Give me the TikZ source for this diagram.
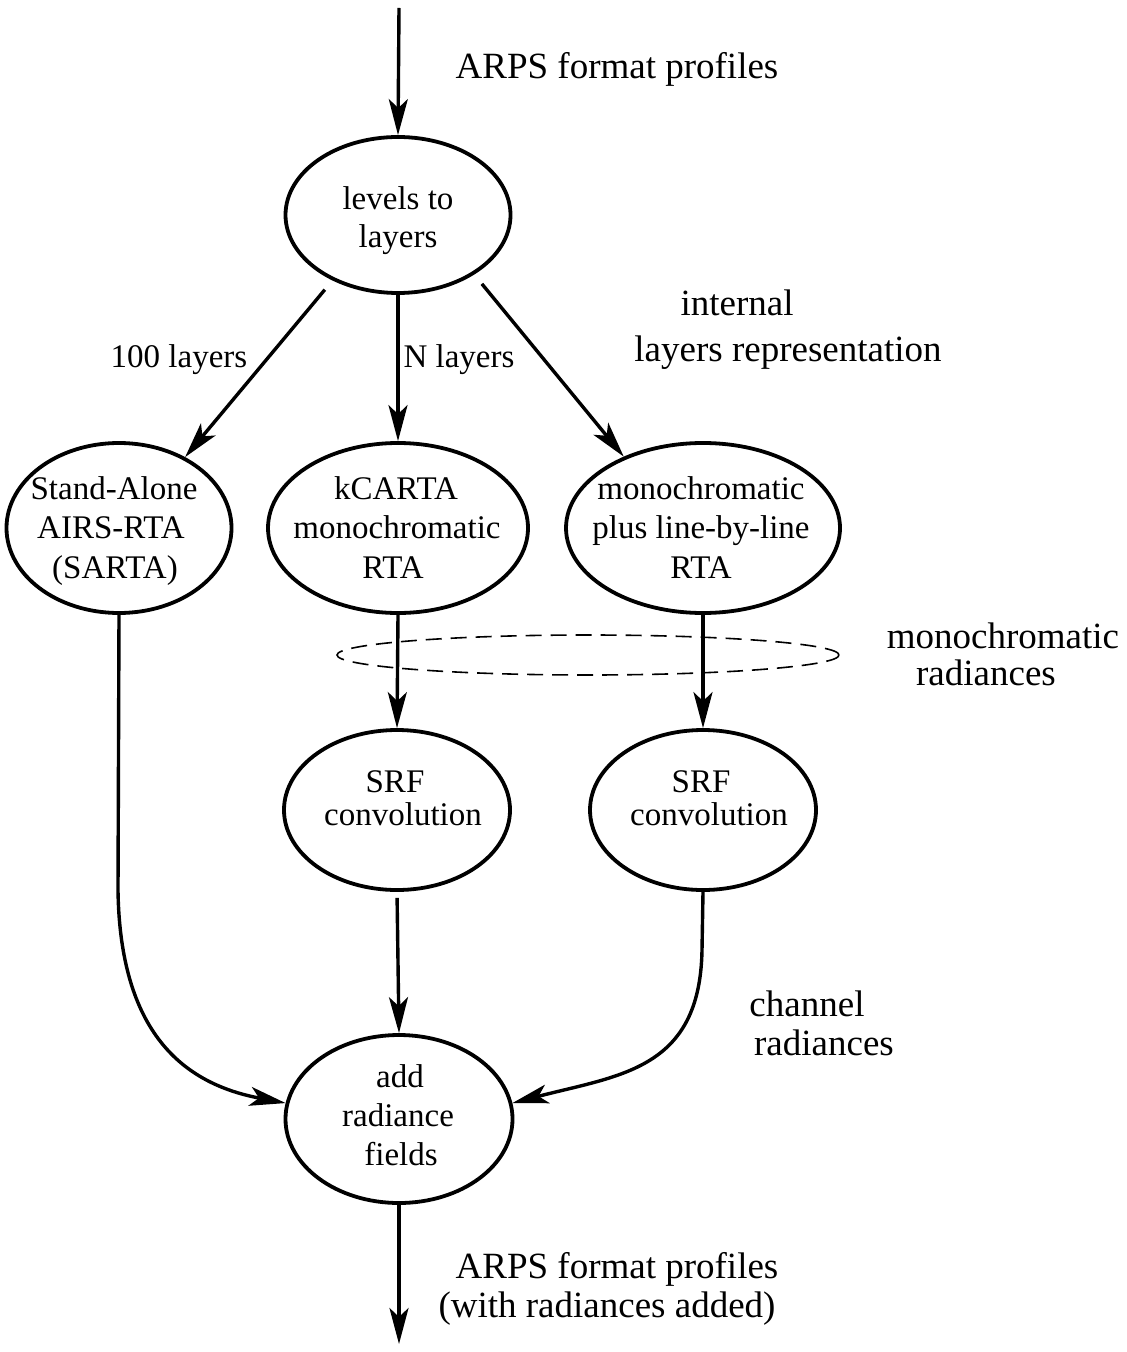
\documentclass[tikz,border=0pt]{standalone}
\usepackage{fontspec}
\setmainfont{Liberation Serif}
\usetikzlibrary{shapes.geometric,arrows.meta}
\begin{document}
\begin{tikzpicture}[x=0.5pt,y=-0.5pt,
  ell/.style={ellipse,draw,line width=1.9pt,inner sep=0pt},
  arr/.style={line width=1.7pt,-{Stealth[length=18pt,width=9.5pt,inset=4.5pt]}},
  lbl/.style={anchor=base,inner sep=0pt,font=\fontsize{18.5}{19.5}\selectfont},
  t/.style={anchor=base,inner sep=0pt,font=\fontsize{16.5}{19}\selectfont}]
\useasboundingbox (0,0) rectangle (1126,1352);

% ellipses
\node[ell,minimum width=112.5pt,minimum height=78pt] (lev) at (398,215) {};
\node[ell,minimum width=112.5pt,minimum height=85pt] (sarta) at (119,528) {};
\node[ell,minimum width=130pt,minimum height=85pt] (kc) at (398,528) {};
\node[ell,minimum width=137pt,minimum height=85pt] (mono) at (703,528) {};
\node[ellipse,draw,dash pattern=on 8pt off 4.5pt,line width=0.8pt,inner sep=0pt,minimum width=251pt,minimum height=20pt] (mr) at (588,655) {};
\node[ell,minimum width=113pt,minimum height=80pt] (srfa) at (397,810) {};
\node[ell,minimum width=113pt,minimum height=80pt] (srfb) at (703,810) {};
\node[ell,minimum width=113.5pt,minimum height=84pt] (add) at (399,1119) {};

% texts inside the ellipses
\node[t] (lev1) at (398,210) {levels to};
\node[t] (lev2) at (398,248) {layers};
\node[t] (sa1) at (114,499) {Stand-Alone};
\node[t] (sa2) at (111,538) {AIRS-RTA};
\node[t] (sa3) at (115,578) {(SARTA)};
\node[t] (kc1) at (396,499) {kCARTA};
\node[t] (kc2) at (397,538) {monochromatic};
\node[t] (kc3) at (393,578) {RTA};
\node[t] (mo1) at (701,499) {monochromatic};
\node[t] (mo2) at (701,538) {plus line-by-line};
\node[t] (mo3) at (701,578) {RTA};
\node[t] (sr1) at (395,792) {SRF};
\node[t] (sr2) at (403,825) {convolution};
\node[t] (sr3) at (701,792) {SRF};
\node[t] (sr4) at (709,825) {convolution};
\node[t] (ad1) at (400,1087) {add};
\node[t] (ad2) at (398,1126) {radiance};
\node[t] (ad3) at (401,1165) {fields};

\coordinate (in) at (399,8);
\coordinate (out) at (399,1344);

% labels
\node[lbl] (l1) at (617,79) {ARPS format profiles};
\node[t] (l2) at (179,368) {100 layers};
\node[t] (l3) at (459,368) {N layers};
\node[lbl] (l4a) at (737,316) {internal};
\node[lbl] (l4b) at (788,362) {layers representation};
\node[lbl] (l5a) at (1003,648) {monochromatic};
\node[lbl] (l5b) at (986,685) {radiances};
\node[lbl] (l6a) at (807,1016) {channel};
\node[lbl] (l6b) at (824,1055) {radiances};
\node[lbl] (l7a) at (617,1278) {ARPS format profiles};
\node[lbl] (l7b) at (607,1317) {(with radiances added)};

% connectors
\draw[arr] (in) -- (lev.north);
\draw[arr,shorten <=6pt] (lev.-135) -- (sarta.47);
\draw[arr] (lev.south) -- (kc.north);
\draw[arr,shorten <=6pt] (lev.-38) -- (mono.138);
\draw[arr] (kc.south) -- (srfa.north);
\draw[arr] (mono.south) -- (srfb.north);
\draw[arr,shorten <=3pt] (srfa.south) -- (add.north);
\draw[arr] (sarta.south) -- (118,890) .. controls (120,1040) and (190,1085) .. (add.172);
\draw[arr] (srfb.south) -- (702,950) .. controls (700,1070) and (620,1075) .. (add.8);
\draw[arr] (add.south) -- (out);
\end{tikzpicture}
\end{document}
